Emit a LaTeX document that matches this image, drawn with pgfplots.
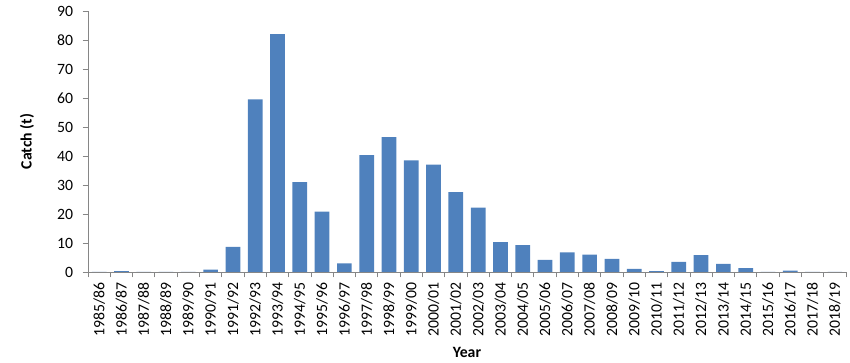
\documentclass[border=0pt]{standalone}
\usepackage{fontspec}
\setmainfont{Carlito}
\usepackage{pgfplots}
\pgfplotsset{compat=1.18}
\definecolor{barblue}{HTML}{4F81BD}
\definecolor{axgray}{HTML}{868686}
\begin{document}
\fontsize{11.8}{13}\selectfont
\begin{tikzpicture}
\begin{axis}[
  scale only axis,
  width=568.5pt, height=195.75pt,
  xmin=-0.5, xmax=33.5,
  ymin=0, ymax=90,
  ytick={0,10,...,90},
  xtick={0,...,33},
  xticklabels={1985/86,1986/87,1987/88,1988/89,1989/90,1990/91,1991/92,1992/93,1993/94,1994/95,1995/96,1996/97,1997/98,1998/99,1999/00,2000/01,2001/02,2002/03,2003/04,2004/05,2005/06,2006/07,2007/08,2008/09,2009/10,2010/11,2011/12,2012/13,2013/14,2014/15,2015/16,2016/17,2017/18,2018/19},
  xticklabel style={rotate=90, anchor=east, font=\fontsize{11.8}{13}\selectfont},
  yticklabel style={font=\fontsize{11.8}{13}\selectfont, xshift=-3pt},
  minor xtick={-0.5,0.5,...,33.5},
  major x tick style={draw=none},
  minor tick length=4pt,
  major tick length=4pt,
  tick align=outside,
  tick style={axgray, line width=0.6pt},
  axis x line*=bottom,
  axis y line*=left,
  axis line style={axgray, line width=0.7pt, -},
  /pgf/number format/assume math mode=true,
  ylabel={Catch (t)},
  xlabel={Year},
  ylabel style={font=\fontsize{11.8}{13}\selectfont\bfseries, at={(axis description cs:-0.0805,0.5)}, anchor=center},
  xlabel style={font=\fontsize{11.8}{13}\selectfont\bfseries, at={(axis description cs:0.5,-0.3065)}, anchor=center},
  ybar, bar width=0.66,
  clip=false,
]
\addplot[fill=barblue, draw=none] coordinates {
(0,0) (1,0.3) (2,0) (3,0) (4,0) (5,0.8) (6,8.7) (7,59.5) (8,82) (9,31)
(10,20.8) (11,3) (12,40.3) (13,46.5) (14,38.5) (15,37) (16,27.5) (17,22.2)
(18,10.3) (19,9.3) (20,4.2) (21,6.8) (22,6) (23,4.5) (24,1.1) (25,0.3)
(26,3.5) (27,5.8) (28,2.8) (29,1.3) (30,0) (31,0.5) (32,0) (33,0)
};
\path (rel axis cs:0,0) ++(-66pt,-68.25pt) coordinate (bl);
\path (rel axis cs:1,1) ++(3pt,8.25pt) coordinate (tr);
\end{axis}
\path (bl) rectangle (tr);
\end{tikzpicture}
\end{document}
